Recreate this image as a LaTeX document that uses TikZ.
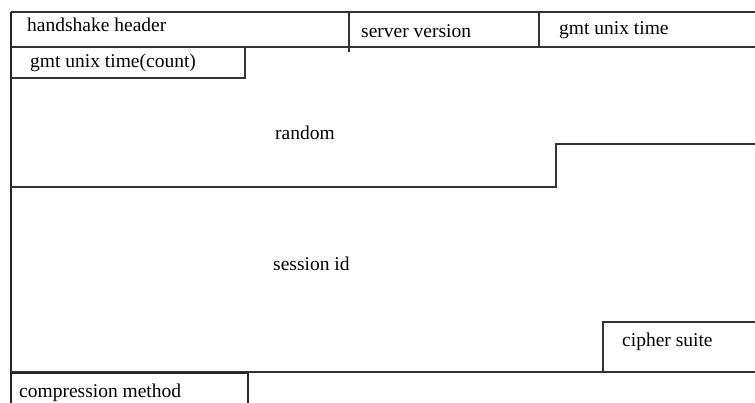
\documentclass[tikz,border=0pt]{standalone}
\usepackage{fontspec}
\setmainfont{Liberation Serif}
\begin{document}
\begin{tikzpicture}[x=1pt,y=-1pt,
        field/.style={anchor=west,inner sep=0pt,font=\fontsize{19.5}{22}\selectfont},
        rule/.style={draw=black!80,line width=1.1pt},
        thickrule/.style={draw=black!85,line width=1.8pt}]
        \useasboundingbox (0,0) rectangle (755,403);
        \fill[white] (0,0) rectangle (755,403);
        % field labels
        \node (hs) [field] at (27,25) {handshake header};
        \node (sv) [field] at (361,31) {server version};
        \node (gt) [field] at (559,30) {gmt unix time};
        \node (gc) [field] at (30,63) {gmt unix time(count)};
        \node (rnd) [field] at (275,133) {random};
        \node (sid) [field] at (273,264) {session id};
        \node (cs) [field] at (622,342) {cipher suite};
        \node (cm) [field] at (19,393) {compression method};
        % first row
        \draw[rule] (11,12) -- (755,12);
        \draw[rule] (11,47) -- (755,47);
        \draw[rule] (349,12) -- (349,52);
        \draw[rule] (539,12) -- (539,47);
        \draw[thickrule] (11,12) -- (11,403);
        % gmt unix time(count)
        \draw[rule] (11,78) -- (245,78) -- (245,47);
        % random
        \draw[rule] (11,187) -- (556,187) -- (556,144) -- (755,144);
        % session id and cipher suite
        \draw[rule] (11,372) -- (755,372);
        \draw[rule] (603,372) -- (603,322) -- (755,322);
        % compression method
        \draw[thickrule] (11,373) -- (248,373) -- (248,403);
\end{tikzpicture}
\end{document}
